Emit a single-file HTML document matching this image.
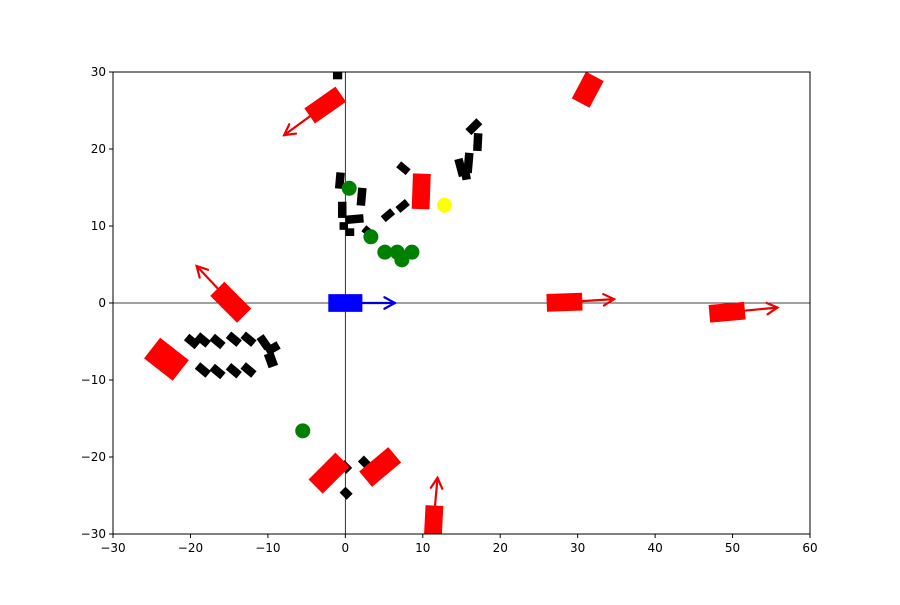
<!DOCTYPE html>
<html><head><meta charset="utf-8"><style>
body{margin:0;background:#fff}
svg{font-family:"DejaVu Sans","Liberation Sans",sans-serif}
</style></head><body>
<svg id="chart" width="900" height="600" xmlns="http://www.w3.org/2000/svg">
<defs><clipPath id="clip"><rect x="113" y="72" width="697" height="462"/></clipPath></defs>
<g id="plot" clip-path="url(#clip)"></g>
<g id="axes"></g>
</svg>
<script>
// data (data units): [x, y, length, width, screen angle deg]
const redCars=[[-2.6,25.7,4.9,2.4,-35],[31.3,27.7,3.9,2.6,-62],[9.8,14.5,2.3,4.6,2],[-14.8,0.1,4.9,2.6,45],[-23.1,-7.3,4.7,3.4,38],[28.3,0.1,4.6,2.3,-2],[49.3,-1.2,4.6,2.3,-5],[-2.1,-22.1,4.9,2.6,-45],[4.5,-21.3,4.9,2.6,-40],[11.4,-28.4,2.3,4.2,3]];
const redArrows=[[-2.6,25.7,-7.9,21.8],[-14.8,0.1,-19.2,4.8],[28.3,0.1,34.7,0.5],[49.3,-1.2,55.8,-0.6],[11.4,-28.4,11.9,-22.7]];
const blueCar=[0,0,4.4,2.3,0];
const blueArrow=[0,0,6.4,0];
const yellowPts=[[12.8,12.7]];
const greenPts=[[0.5,14.9],[3.3,8.6],[5.1,6.6],[6.7,6.6],[7.3,5.6],[8.6,6.6],[-5.5,-16.6]];
const blackObjs=[[-1,29.6,1.2,1.1,0],[-0.7,15.9,1.1,2.1,5],[2.1,13.8,1.1,2.3,5],[-0.4,12.1,1.1,2.1,0],[1.2,10.9,2.3,1.1,-5],[-0.2,10.0,1.1,1.0,0],[0.6,9.2,1.1,1.0,0],[3.0,9.2,1.6,1.0,40],[5.5,11.4,1.6,1.0,-40],[7.4,12.6,1.6,1.0,-40],[7.5,17.5,1.6,1.0,40],[16.6,22.9,2.0,1.1,-45],[17.1,20.9,1.1,2.3,3],[14.9,17.6,1.1,2.3,-15],[15.9,18.2,1.1,2.6,5],[15.5,17.0,1.1,2.0,-10],[0,-21.3,1.4,1.1,45],[2.5,-20.7,1.4,1.1,45],[0.1,-24.7,1.3,1.1,45],[-19.8,-5.0,1.8,1.1,40],[-18.4,-4.8,1.8,1.1,40],[-16.5,-5.0,1.8,1.1,40],[-14.4,-4.7,1.8,1.1,40],[-12.5,-4.7,1.8,1.1,40],[-10.5,-5.1,1.8,1.1,55],[-9.4,-5.9,1.8,1.1,-30],[-9.6,-7.4,1.8,1.3,70],[-18.4,-8.7,1.8,1.1,40],[-16.5,-8.9,1.8,1.1,40],[-14.4,-8.8,1.8,1.1,40],[-12.5,-8.7,1.8,1.1,40]];
const xTicks=[-30,-20,-10,0,10,20,30,40,50,60];
const yTicks=[-30,-20,-10,0,10,20,30];

const X0=113,X1=810,Y0=72,Y1=534;
const sx=v=>X0+(v+30)/90*(X1-X0);
const sy=v=>Y1-(v+30)/60*(Y1-Y0);
const kx=(X1-X0)/90, ky=(Y1-Y0)/60;
const NS="http://www.w3.org/2000/svg";
const plot=document.getElementById('plot'), axes=document.getElementById('axes');
function mk(t,a,p){const e=document.createElementNS(NS,t);for(const k in a)e.setAttribute(k,a[k]);p.appendChild(e);return e;}

// zero lines
let zl=mk('line',{x1:sx(0),x2:sx(0),y1:Y0,y2:Y1,stroke:'#000','stroke-width':0.8},plot);


zl=mk('line',{x1:X0,x2:X1,y1:sy(0),y2:sy(0),stroke:'#000','stroke-width':0.8},plot);



function rect(o,fill,name){
  const [x,y,l,w,a]=o;const cx=sx(x),cy=sy(y),L=l*kx,W=w*ky;
  const r=mk('rect',{x:cx-L/2,y:cy-W/2,width:L,height:W,fill:fill,transform:`rotate(${a} ${cx} ${cy})`},plot);
  
  
}
function arrow(o,col,name){
  const [x1,y1,x2,y2]=o;const a=sx(x1),b=sy(y1),c=sx(x2),d=sy(y2);
  const g=mk('g',{stroke:col,'stroke-width':2.2,fill:'none','stroke-linecap':'round'},plot);
  
  
  mk('line',{x1:a,y1:b,x2:c,y2:d},g);
  const ang=Math.atan2(d-b,c-a),h=12;
  const p=t=>[c-h*Math.cos(ang+t),d-h*Math.sin(ang+t)];
  const [p1x,p1y]=p(0.5),[p2x,p2y]=p(-0.5);
  mk('polyline',{points:`${p1x},${p1y} ${c},${d} ${p2x},${p2y}`},g);
}
blackObjs.forEach(o=>rect(o,'#000','obstacle'));
redArrows.forEach(o=>arrow(o,'#e00','red-heading-arrow'));
redCars.forEach(o=>rect(o,'#f00','red-vehicle'));
arrow(blueArrow,'#00d','blue-heading-arrow');
rect(blueCar,'#00f','ego-vehicle');
greenPts.forEach(p=>{const c=mk('circle',{cx:sx(p[0]),cy:sy(p[1]),r:7.5,fill:'#008000'},plot);
  
  });
yellowPts.forEach(p=>{const c=mk('circle',{cx:sx(p[0]),cy:sy(p[1]),r:7.5,fill:'#ff0'},plot);
  
  });

const fr=mk('rect',{x:X0,y:Y0,width:X1-X0,height:Y1-Y0,fill:'none',stroke:'#000','stroke-width':1},axes);


xTicks.forEach(t=>{const x=sx(t);mk('line',{x1:x,x2:x,y1:Y1,y2:Y1+4,stroke:'#000'},axes);
  const tx=mk('text',{x:x,y:Y1+18,'text-anchor':'middle','font-size':12},axes);tx.textContent=(t<0?'\u2212'+(-t):t);
  
  });
yTicks.forEach(t=>{const y=sy(t);mk('line',{x1:X0-4,x2:X0,y1:y,y2:y,stroke:'#000'},axes);
  const tx=mk('text',{x:X0-7,y:y+4,'text-anchor':'end','font-size':12},axes);tx.textContent=(t<0?'\u2212'+(-t):t);
  
  });
</script>
</body></html>
